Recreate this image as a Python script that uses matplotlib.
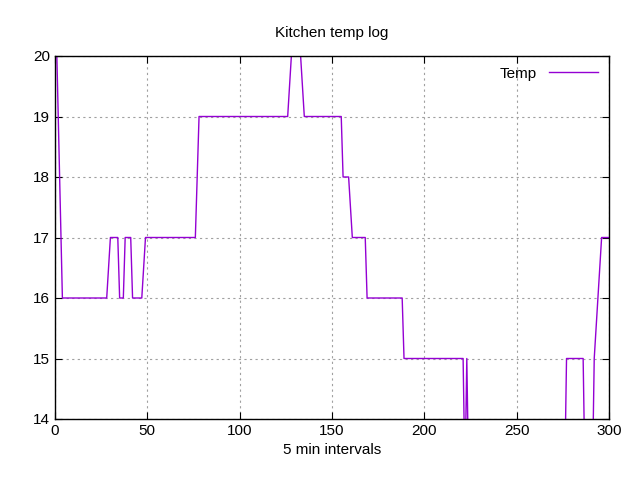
import matplotlib
matplotlib.use("Agg")
import matplotlib.pyplot as plt

x = [0, 1, 4, 28, 30, 34, 35, 37, 38, 41, 42, 47, 49, 76, 78, 126, 128, 133, 135,
     155, 156, 159, 161, 168, 169, 188, 189, 221, 222, 223, 224, 276, 277, 286, 287,
     291, 292, 294, 296, 300]
temp = [20, 20, 16, 16, 17, 17, 16, 16, 17, 17, 16, 16, 17, 17, 19, 19, 20, 20, 19,
        19, 18, 18, 17, 17, 16, 16, 15, 15, 13, 15, 13, 13, 15, 15, 13,
        13, 15, 16, 17, 17]

plt.rcParams['font.family'] = ['Liberation Sans', 'DejaVu Sans']
fig = plt.figure(figsize=(6.4, 4.8), dpi=100)
ax = fig.add_axes([55/640, 1-419/480, (609-55)/640, (419-56)/480])
ax.plot(x, temp, color='#9400D3', lw=1, label='Temp')
ax.set_xlim(0, 300)
ax.set_ylim(14, 20)
ax.set_xticks(range(0, 301, 50))
ax.set_yticks(range(14, 21))
ax.grid(True, color='#a0a0a0', linestyle=(0, (2, 3)), lw=0.8)
ax.tick_params(direction='in', top=True, right=True, labelsize=11, length=5)
for s in ax.spines.values():
    s.set_linewidth(1)
ax.set_title('Kitchen temp log', fontsize=11, pad=14)
ax.set_xlabel('5 min intervals', fontsize=11)
leg = ax.legend(loc='upper right', frameon=False, fontsize=11, markerfirst=False,
                handlelength=3.2, borderaxespad=0.3)
fig.savefig('out.png')
